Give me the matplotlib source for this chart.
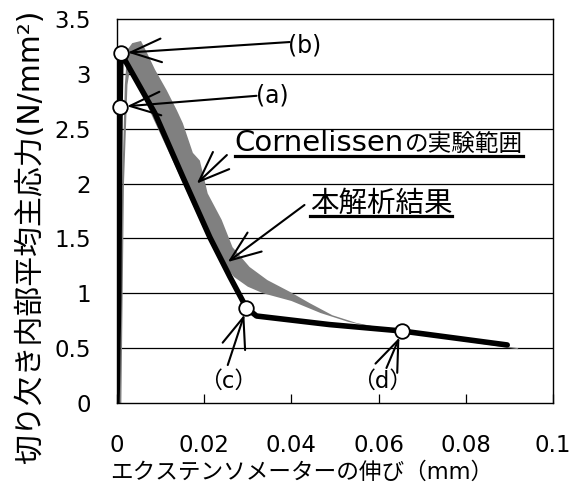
import matplotlib
matplotlib.use("Agg")
import matplotlib.pyplot as plt
from matplotlib.lines import Line2D

plt.rcParams['font.family'] = ['DejaVu Sans', 'Noto Sans CJK JP']

# ---- data ----
# analysis result (本解析結果)
res_x = [0.0, 0.0004, 0.0007, 0.0009, 0.0087, 0.0151, 0.0213, 0.0259, 0.0297, 0.0320, 0.0487, 0.0654, 0.0895]
res_y = [0.0, 1.00, 2.70, 3.19, 2.64, 2.06, 1.51, 1.15, 0.866, 0.793, 0.715, 0.656, 0.529]

# marked points (a)-(d)
pt_names = ['(a)', '(b)', '（c）', '（d）']
pt_x = [0.0007, 0.0009, 0.0297, 0.0654]
pt_y = [2.70, 3.19, 0.866, 0.656]

# Cornelissen experimental range (outer and inner boundary)
band_outer_x = [0.0006, 0.0012, 0.0018, 0.0024, 0.0035, 0.0055, 0.0069, 0.0087, 0.0114, 0.0137,
                0.0151, 0.0174, 0.0190, 0.0208, 0.0240, 0.0265, 0.0304, 0.0345, 0.0398, 0.0442,
                0.0494, 0.0549, 0.0600, 0.0700, 0.0800, 0.0920]
band_outer_y = [0.0, 2.00, 2.90, 3.22, 3.28, 3.30, 3.19, 3.04, 2.85, 2.67,
                2.55, 2.28, 2.21, 1.91, 1.67, 1.42, 1.24, 1.12, 1.01, 0.91,
                0.80, 0.73, 0.69, 0.63, 0.57, 0.50]
band_inner_x = [0.0010, 0.0016, 0.0024, 0.0030, 0.0080, 0.0145, 0.0208, 0.0240, 0.0268, 0.0300,
                0.0335, 0.0400, 0.0467, 0.0530, 0.0600, 0.0700, 0.0800, 0.0920]
band_inner_y = [0.0, 2.00, 2.90, 3.05, 2.62, 2.06, 1.51, 1.30, 1.15, 1.06,
                1.00, 0.93, 0.82, 0.74, 0.68, 0.62, 0.56, 0.49]

x_ticks = [0, 0.02, 0.04, 0.06, 0.08, 0.1]
x_ticklabels = ['0', '0.02', '0.04', '0.06', '0.08', '0.1']
y_ticks = [0, 0.5, 1, 1.5, 2, 2.5, 3, 3.5]
y_ticklabels = ['0', '0.5', '1', '1.5', '2', '2.5', '3', '3.5']

xlabel = 'エクステンソメーターの伸び（mm）'
ylabel = '切り欠き内部平均主応力(N/mm²)'
label_exp_a = 'Cornelissen'
label_exp_b = 'の実験範囲'
label_res = '本解析結果'

# ---- figure ----
W, H = 573, 492
fig = plt.figure(figsize=(W / 100, H / 100), dpi=100)
ax = fig.add_axes([117 / W, 1 - 403 / H, (553 - 117) / W, (403 - 19) / H])
ax.set_xlim(0, 0.1)
ax.set_ylim(0, 3.5)

for v in y_ticks[1:-1]:
    ax.axhline(v, color='black', lw=0.9, zorder=1)

poly_x = band_outer_x + band_inner_x[::-1]
poly_y = band_outer_y + band_inner_y[::-1]
ax.fill(poly_x, poly_y, color='#808080', lw=0, zorder=2)

ax.plot(res_x, res_y, color='black', lw=4.0, solid_capstyle='round', solid_joinstyle='round', zorder=3)
ax.plot(pt_x, pt_y, 'o', ms=10.5, mfc='white', mec='black', mew=1.3, zorder=6, clip_on=False)

for s in ax.spines.values():
    s.set_linewidth(1.0)
    s.set_color('black')

ax.set_xticks(x_ticks)
ax.set_xticklabels(x_ticklabels)
ax.set_yticks(y_ticks)
ax.set_yticklabels(y_ticklabels)
ax.tick_params(axis='x', direction='in', length=6.5, width=0.9, pad=22, labelsize=16.5)
ax.tick_params(axis='y', length=0, pad=19, labelsize=16.5)

fig.text(110 / W, 1 - 472 / H, xlabel, ha='left', va='center', fontsize=16.3)
fig.text(30 / W, 1 - 237 / H, ylabel, ha='center', va='center', rotation=90, fontsize=21.5)

arrow_style = '->,head_length=2.2,head_width=0.85'


def arrow(start, target, shrink):
    ax.annotate('', xy=target, xytext=start,
                arrowprops=dict(arrowstyle=arrow_style, lw=1.5, color='black',
                                shrinkA=0, shrinkB=shrink, mutation_scale=10),
                zorder=5)


# point labels
ax.text(0.0357, 2.80, pt_names[0], ha='center', va='center', fontsize=17)
ax.text(0.0430, 3.263, pt_names[1], ha='center', va='center', fontsize=17)
ax.text(0.0254, 0.20, pt_names[2], ha='center', va='center', fontsize=16.5)
ax.text(0.0609, 0.20, pt_names[3], ha='center', va='center', fontsize=16.5)

arrow((0.0320, 2.80), (pt_x[0], pt_y[0]), 5)
arrow((0.0396, 3.29), (pt_x[1], pt_y[1]), 5)
arrow((0.0254, 0.346), (pt_x[2], pt_y[2]), 5)
arrow((0.0618, 0.319), (pt_x[3], pt_y[3]), 5)

t_exp = ax.text(0.0270, 2.30, label_exp_a, ha='left', va='baseline', fontsize=21)
t_res = ax.text(0.0442, 1.814, label_res, ha='left', va='center', fontsize=20.5)
arrow((0.0252, 2.26), (0.0183, 2.0), 0)
arrow((0.0430, 1.805), (0.0254, 1.285), 0)

fig.canvas.draw()
bbA = t_exp.get_window_extent()
xA_end = ax.transData.inverted().transform((bbA.x1 + 1, bbA.y0))[0]
t_exp2 = ax.text(xA_end, 2.30, label_exp_b, ha='left', va='baseline', fontsize=17)

# underlines
fig.canvas.draw()
inv = fig.transFigure.inverted()
bb1 = t_exp.get_window_extent()
bb2 = t_exp2.get_window_extent()
(ux0, uy0) = inv.transform((bb1.x0, bb1.y0 + 1))
(ux1, _) = inv.transform((bb2.x1, bb1.y0 + 1))
fig.add_artist(Line2D([ux0, ux1], [uy0, uy0], color='black', lw=2.3, transform=fig.transFigure))

bb = t_res.get_window_extent()
(x0, y0) = inv.transform((bb.x0, bb.y0 + 2))
(x1, _) = inv.transform((bb.x1, bb.y0 + 2))
fig.add_artist(Line2D([x0, x1], [y0, y0], color='black', lw=2.3, transform=fig.transFigure))

fig.savefig('out.png', dpi=100)
